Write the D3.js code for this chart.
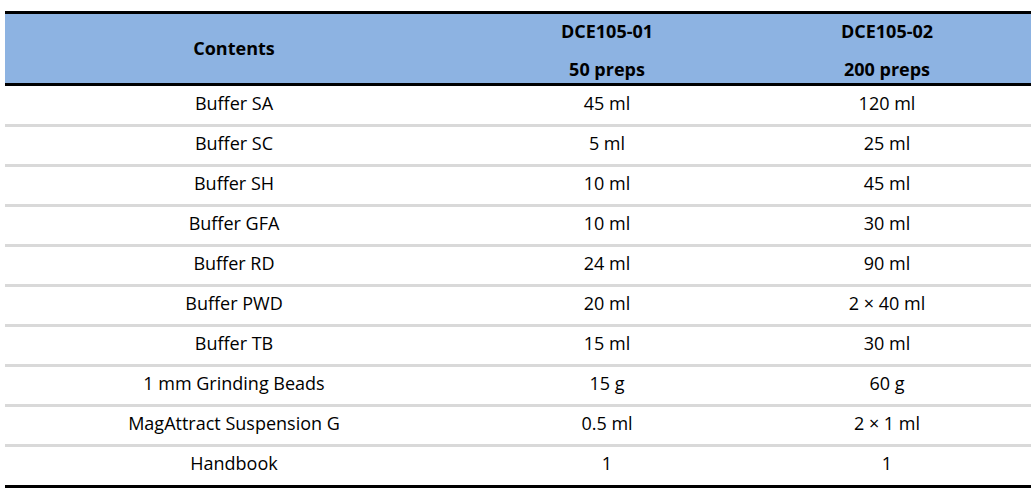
<!DOCTYPE html><html><head><meta charset="utf-8"><script src="https://cdn.jsdelivr.net/npm/d3@7"></script>
<style>body{margin:0;background:#fff}</style></head><body><svg id="c" width="1036" height="494"></svg>
<script>
const headers=[["Contents"],["DCE105-01","50 preps"],["DCE105-02","200 preps"]];
const contents=["Buffer SA","Buffer SC","Buffer SH","Buffer GFA","Buffer RD","Buffer PWD","Buffer TB","1 mm Grinding Beads","MagAttract Suspension G","Handbook"];
const col1=["45 ml","5 ml","10 ml","10 ml","24 ml","20 ml","15 ml","15 g","0.5 ml","1"];
const col2=["120 ml","25 ml","45 ml","30 ml","90 ml","2 × 40 ml","30 ml","60 g","2 × 1 ml","1"];
const svg=d3.select("#c");
const L=5,R=1031,font="'Open Sans',sans-serif";
const cx=[234,607,887];
const y=d3.scaleBand().domain(d3.range(contents.length)).range([86,486]);
svg.append("rect").attr("x",L).attr("y",13).attr("width",R-L).attr("height",71).attr("fill","#8db3e2");
svg.append("rect").attr("x",L).attr("y",11).attr("width",R-L).attr("height",3).attr("fill","#000");
svg.append("rect").attr("x",L).attr("y",83).attr("width",R-L).attr("height",3).attr("fill","#000");
headers.forEach((h,i)=>{
  const ys=h.length==1?[50]:[33,71];
  h.forEach((t,j)=>svg.append("text").attr("x",cx[i]).attr("y",ys[j]).attr("text-anchor","middle").attr("dominant-baseline","middle").attr("font-family",font).attr("font-weight","bold").attr("font-size",18).text(t));
});
const rows=contents.map((c,i)=>[c,col1[i],col2[i]]);
rows.forEach((r,i)=>{
  if(i<rows.length-1) svg.append("rect").attr("x",L).attr("y",y(i)+y.bandwidth()-2).attr("width",R-L).attr("height",3).attr("fill","#d9d9d9");
  r.forEach((t,j)=>svg.append("text").attr("x",cx[j]).attr("y",y(i)+y.bandwidth()/2-1).attr("text-anchor","middle").attr("dominant-baseline","middle").attr("font-family",font).attr("font-size",18).attr("fill","#000").text(t));
});
svg.append("rect").attr("x",L).attr("y",485).attr("width",R-L).attr("height",3).attr("fill","#000");
</script></body></html>
